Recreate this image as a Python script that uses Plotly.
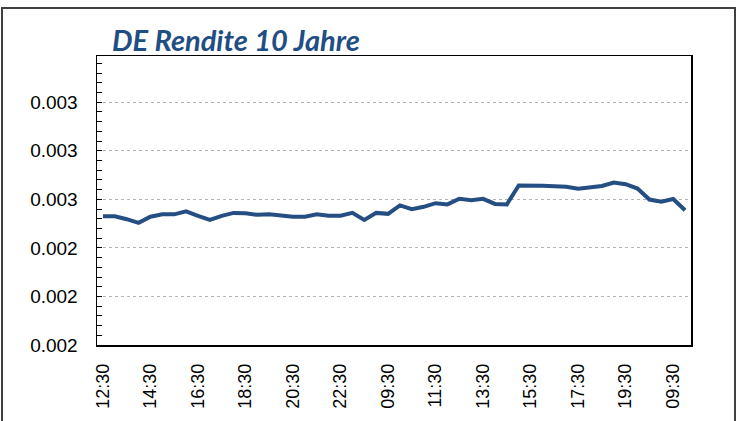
import plotly.graph_objects as go

times = [
    "12:30", "13:00", "13:30", "14:00", "14:30", "15:00", "15:30", "16:00", "16:30", "17:00",
    "17:30", "18:00", "18:30", "19:00", "19:30", "20:00", "20:30", "21:00", "21:30", "22:00",
    "22:30", "23:00",
    "08:30", "09:00", "09:30", "10:00", "10:30", "11:00", "11:30", "12:00", "12:30", "13:00",
    "13:30", "14:00", "14:30", "15:00", "15:30", "16:00", "16:30", "17:00", "17:30", "18:00",
    "18:30", "19:00", "19:30", "20:00",
    "08:30", "09:00", "09:30", "10:00",
]
values = [
    0.002530, 0.002530, 0.002518, 0.002503, 0.002528, 0.002538, 0.002538, 0.002550, 0.002532, 0.002515,
    0.002532, 0.002544, 0.002542, 0.002536, 0.002538, 0.002532, 0.002528, 0.002528, 0.002538, 0.002532,
    0.002532, 0.002544,
    0.002515, 0.002544, 0.002540, 0.002575, 0.002559, 0.002569, 0.002584, 0.002579, 0.002602, 0.002596,
    0.002602, 0.002581, 0.002579, 0.002657, 0.002658, 0.002656, 0.002654, 0.002652, 0.002643, 0.002648,
    0.002655, 0.002669, 0.002662, 0.002644,
    0.002599, 0.002590, 0.002601, 0.002555,
]
title_text = "DE Rendite 10 Jahre"
y_ticks = [0.0020, 0.0022, 0.0024, 0.0026, 0.0028, 0.0030]

idx = list(range(len(values)))
tick_idx = idx[::4]
tick_txt = [times[i] for i in tick_idx]

W, H = 738, 421
ml, mr, mt, mb = 97, 47, 56, 76
pw, ph = W - ml - mr, H - mt - mb

fig = go.Figure()
fig.add_trace(go.Scatter(
    x=idx, y=values, mode="lines",
    line=dict(color="#254E82", width=4),
    hoverinfo="skip", showlegend=False,
))

def px_x(p):
    return (p - ml) / pw

def px_y(p):
    return (H - mb - p) / ph

fig.update_layout(
    width=W, height=H,
    margin=dict(l=ml, r=mr, t=mt, b=mb, autoexpand=False),
    paper_bgcolor="white", plot_bgcolor="white",
    font=dict(family="Liberation Sans, Arial, sans-serif", color="black"),
    xaxis=dict(
        range=[-0.5, len(values) - 0.5],
        tickmode="array", tickvals=tick_idx, ticktext=tick_txt,
        tickangle=-90, tickfont=dict(size=18),
        showgrid=False, zeroline=False,
        showline=True, linecolor="black", linewidth=1.5, mirror=True,
        ticks="", ticklabelstandoff=10,
    ),
    yaxis=dict(
        range=[0.0020, 0.00319],
        tickmode="array", tickvals=y_ticks, tickformat=".3f",
        tickfont=dict(size=19),
        showgrid=True, gridcolor="#b4b4b4", griddash="dot", gridwidth=1,
        zeroline=False,
        showline=True, linecolor="black", linewidth=1.5, mirror=True,
        ticks="inside", ticklen=5, tickcolor="black", tickwidth=1,
        minor=dict(dtick=0.00004, tick0=0.0020, ticks="inside", ticklen=5,
                   tickcolor="black", tickwidth=1, showgrid=False),
        ticklabelstandoff=14,
    ),
    annotations=[dict(
        text="<b><i>" + title_text + "</i></b>",
        xref="paper", yref="paper",
        x=px_x(110), y=px_y(59), xanchor="left", yanchor="bottom",
        showarrow=False,
        font=dict(family="Lato, Open Sans, sans-serif", size=29, color="#1F4E84"),
    )],
    shapes=[dict(
        type="rect", xref="paper", yref="paper",
        x0=px_x(2), x1=px_x(735), y0=px_y(440), y1=px_y(8),
        line=dict(color="#404040", width=2), fillcolor="rgba(0,0,0,0)",
        layer="below",
    )],
)

fig.write_html("out.html",
               config={"displayModeBar": False, "staticPlot": True},
               post_script="document.body.style.margin='0';document.body.style.overflow='hidden';")
